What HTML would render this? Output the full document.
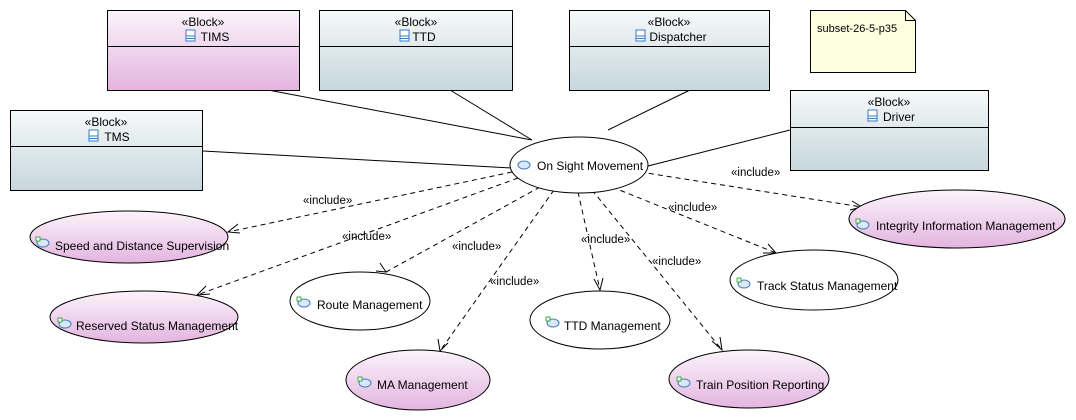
<!DOCTYPE html>
<html><head><meta charset="utf-8"><style>
body{margin:0;background:#fff}
svg{display:block;font-family:"Liberation Sans",sans-serif}
</style></head><body>
<svg width="1076" height="420" viewBox="0 0 1076 420" xmlns="http://www.w3.org/2000/svg">
<defs>
<linearGradient id="gb" x1="0" y1="0" x2="0" y2="1"><stop offset="0" stop-color="#f6f9f9"/><stop offset="1" stop-color="#c6d7dd"/></linearGradient>
<linearGradient id="gp" x1="0" y1="0" x2="0" y2="1"><stop offset="0" stop-color="#fbf4fa"/><stop offset="1" stop-color="#e3b4e0"/></linearGradient>
<g id="bi"><rect x="0" y="0" width="9" height="11" fill="#fff" stroke="#3b7cc0"/><line x1="0" y1="6" x2="9" y2="6" stroke="#3b7cc0"/><line x1="0" y1="8.5" x2="9" y2="8.5" stroke="#3b7cc0"/></g>
<g id="ui"><ellipse cx="6" cy="4" rx="6" ry="4" fill="#dbe9f6" stroke="#3b7cc0"/></g>
<g id="uix"><ellipse cx="7" cy="6" rx="6" ry="4" fill="#dbe9f6" stroke="#3b7cc0"/><rect x="0" y="0" width="4" height="4" fill="#fff" stroke="#1a9a1a" stroke-width="0.8"/></g>
</defs>
<g stroke="#000" stroke-width="1" fill="none">
<line x1="268" y1="90" x2="532" y2="140"/>
<line x1="450" y1="90" x2="532" y2="140"/>
<line x1="690" y1="90" x2="608" y2="130"/>
<line x1="203" y1="151" x2="512" y2="168"/>
<line x1="790" y1="130" x2="648" y2="166"/>
</g>
<g font-size="12" text-anchor="middle">
<rect x="107.5" y="10.5" width="192" height="80" fill="url(#gp)" stroke="#000"/><line x1="107" y1="46.5" x2="300" y2="46.5" stroke="#000"/>
<text x="203" y="26">«Block»</text><use href="#bi" x="186" y="30"/><text x="215" y="41">TIMS</text>
<rect x="319.5" y="10.5" width="193" height="80" fill="url(#gb)" stroke="#000"/><line x1="319" y1="46.5" x2="513" y2="46.5" stroke="#000"/>
<text x="416" y="26">«Block»</text><use href="#bi" x="400" y="30"/><text x="424" y="41">TTD</text>
<rect x="569.5" y="10.5" width="200" height="80" fill="url(#gb)" stroke="#000"/><line x1="569" y1="46.5" x2="770" y2="46.5" stroke="#000"/>
<text x="669" y="26">«Block»</text><use href="#bi" x="636" y="30"/><text x="678" y="41">Dispatcher</text>
<rect x="10.5" y="110.5" width="192" height="80" fill="url(#gb)" stroke="#000"/><line x1="10" y1="146.5" x2="203" y2="146.5" stroke="#000"/>
<text x="106" y="126">«Block»</text><use href="#bi" x="89" y="130"/><text x="117" y="141">TMS</text>
<rect x="790.5" y="90.5" width="198" height="80" fill="url(#gb)" stroke="#000"/><line x1="790" y1="127.5" x2="989" y2="127.5" stroke="#000"/>
<text x="889" y="106">«Block»</text><use href="#bi" x="868" y="110"/><text x="899" y="121">Driver</text>
</g>
<path d="M810.5 10.5 H905.5 L915.5 20.5 V72.5 H810.5 Z" fill="#fefee0" stroke="#000"/>
<path d="M905.5 10.5 V20.5 H915.5" fill="none" stroke="#000"/>
<text x="817" y="32" font-size="11">subset-26-5-p35</text>
<g stroke="#000" fill="none" stroke-dasharray="5,4">
<line x1="512" y1="172" x2="228" y2="232"/>
<line x1="518" y1="178" x2="197" y2="295"/>
<line x1="540" y1="187" x2="386" y2="272"/>
<line x1="554" y1="190" x2="440" y2="351"/>
<line x1="578" y1="192" x2="600" y2="290"/>
<line x1="592" y1="190" x2="722" y2="350"/>
<line x1="612" y1="187" x2="776" y2="253"/>
<line x1="640" y1="172" x2="862" y2="207"/>
</g>
<g stroke="#000" fill="none">
<path d="M238 224 L228 232 L240 233"/>
<path d="M206 286 L197 295 L210 294"/>
<path d="M376 271 L386 272 L380 263"/>
<path d="M438 339 L440 351 L448 343"/>
<path d="M594 279 L600 290 L603 278"/>
<path d="M712 341 L722 350 L720 337"/>
<path d="M763 253 L776 253 L768 244"/>
<path d="M850 210 L862 207 L852 201"/>
</g>
<g font-size="11.5" fill="#000" stroke="none">
<text x="303" y="204">«include»</text>
<text x="342" y="240">«include»</text>
<text x="452" y="250">«include»</text>
<text x="490" y="285">«include»</text>
<text x="581" y="243">«include»</text>
<text x="652" y="265">«include»</text>
<text x="668" y="211">«include»</text>
<text x="731" y="176">«include»</text>
</g>
<g stroke="#000" font-size="12">
<ellipse cx="579" cy="165" rx="69" ry="28" fill="#fff"/>
<ellipse cx="129" cy="237" rx="99" ry="26" fill="url(#gp)"/>
<ellipse cx="144" cy="317" rx="94" ry="26" fill="url(#gp)"/>
<ellipse cx="360" cy="301" rx="70" ry="29" fill="#fff"/>
<ellipse cx="418" cy="380" rx="72" ry="30" fill="url(#gp)"/>
<ellipse cx="600" cy="320" rx="70" ry="29" fill="#fff"/>
<ellipse cx="749" cy="379" rx="80" ry="29" fill="url(#gp)"/>
<ellipse cx="814" cy="280" rx="84" ry="30" fill="#fff"/>
<ellipse cx="957" cy="219" rx="108" ry="29" fill="url(#gp)"/>
</g>
<g font-size="12" fill="#000">
<use href="#ui" x="518" y="161"/><text x="537" y="170">On Sight Movement</text>
<use href="#uix" x="36" y="237"/><text x="55" y="250">Speed and Distance Supervision</text>
<use href="#uix" x="58" y="318"/><text x="76" y="330">Reserved Status Management</text>
<use href="#uix" x="297" y="297"/><text x="317" y="309">Route Management</text>
<use href="#uix" x="358" y="377"/><text x="377" y="389">MA Management</text>
<use href="#uix" x="546" y="317"/><text x="564" y="330">TTD Management</text>
<use href="#uix" x="677" y="377"/><text x="696" y="389">Train Position Reporting</text>
<use href="#uix" x="737" y="278"/><text x="757" y="290">Track Status Management</text>
<use href="#uix" x="856" y="219"/><text x="876" y="230">Integrity Information Management</text>
</g>
</svg>
</body></html>
